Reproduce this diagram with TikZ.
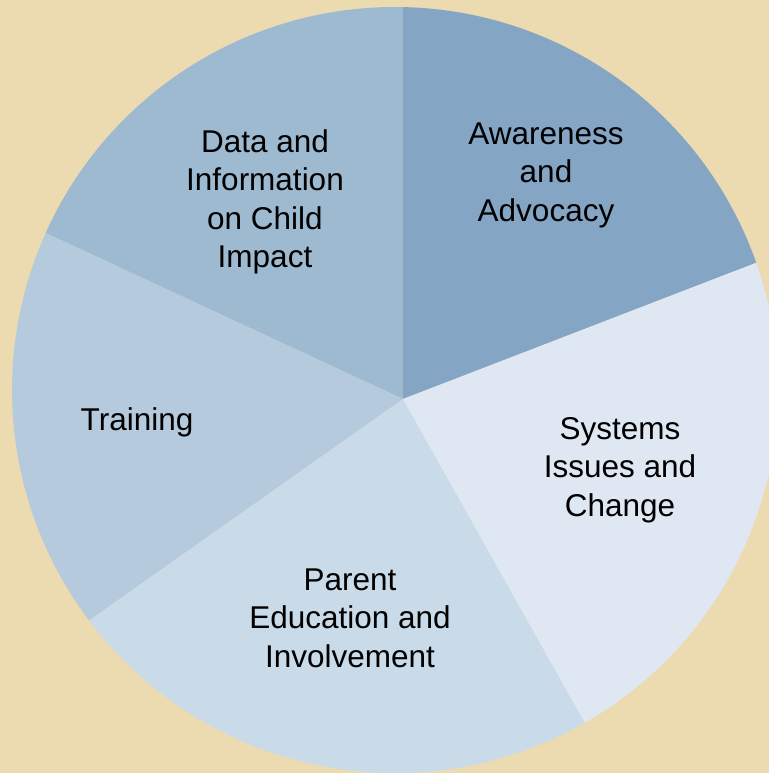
\documentclass[tikz,border=0pt]{standalone}
\usepackage{fontspec}
\setmainfont{Liberation Sans}
\usetikzlibrary{calc}
\definecolor{bgtan}{RGB}{236,218,177}
\definecolor{cAware}{RGB}{132,166,196}
\definecolor{cData}{RGB}{158,186,209}
\definecolor{cTrain}{RGB}{181,202,221}
\definecolor{cParent}{RGB}{201,218,233}
\definecolor{cSys}{RGB}{222,231,242}
\begin{document}
\begin{tikzpicture}[x=1pt,y=1pt,
  lbl/.style={align=center,text=black,font=\fontsize{31.5}{38.5}\selectfont,inner sep=0pt}]
\useasboundingbox (0,0) rectangle (769,773);
\clip (0,0) rectangle (769,773);
\fill[bgtan] (0,0) rectangle (769,773);
\coordinate (O) at (395,383);
\coordinate (P) at (403,374);
\def\R{383pt}
\newcommand{\myslice}[3]{%
  \fill[#1] (P) -- ($(O)+(#2:\R)$) arc[start angle=#2,end angle=#3,radius=\R] -- cycle;}
\myslice{cAware}{19.4}{88.8}
\myslice{cData}{88.8}{155.8}
\myslice{cTrain}{155.8}{217}
\myslice{cParent}{217}{299.7}
\myslice{cSys}{299.7}{379.4}
\node[lbl] (data) at (265,571) {Data and\\Information\\on Child\\Impact};
\node[lbl] (aware) at (546,598) {Awareness\\and\\Advocacy};
\node[lbl] (train) at (137,351) {Training};
\node[lbl] (sys) at (620,303) {Systems\\Issues and\\Change};
\node[lbl] (parent) at (350,155) {Parent\\Education and\\Involvement};
\end{tikzpicture}
\end{document}
